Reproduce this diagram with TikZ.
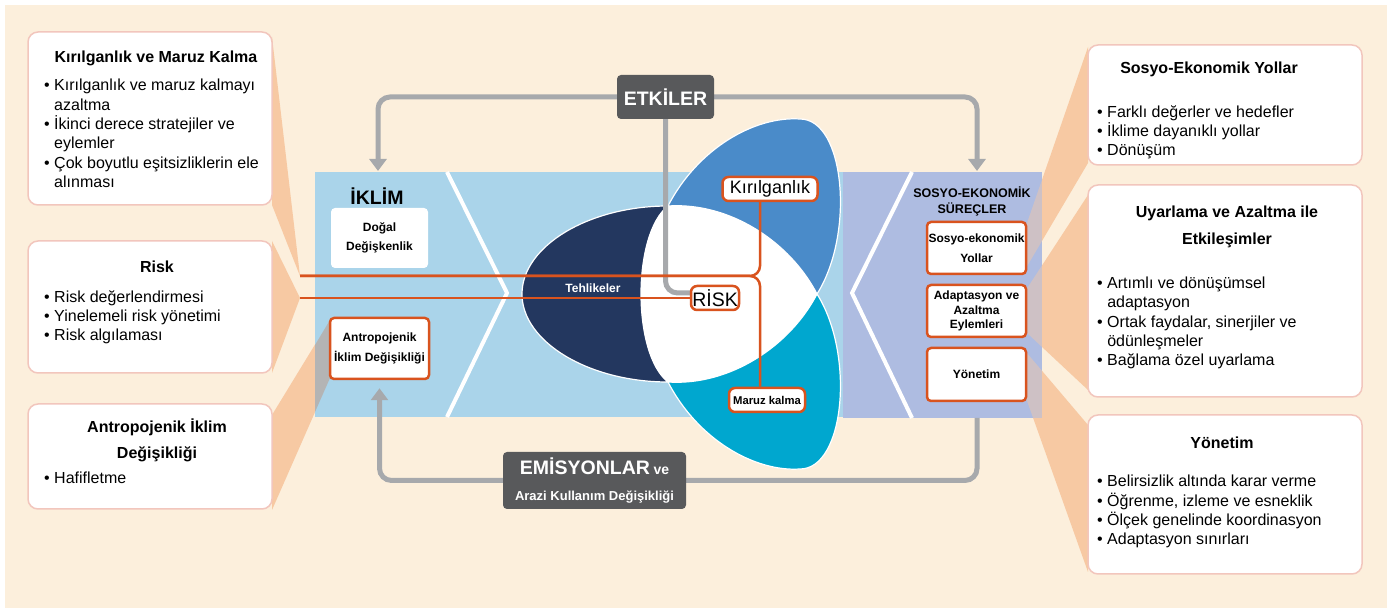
\documentclass[tikz,border=0pt]{standalone}
\usepackage{fontspec}
\setmainfont{Liberation Sans}
\usetikzlibrary{arrows.meta}
\pgfdeclarelayer{back}
\pgfdeclarelayer{wires}
\pgfsetlayers{back,wires,main}
\definecolor{cream}{HTML}{FCEFDC}
\definecolor{skyband}{HTML}{AAD4EA}
\definecolor{periband}{HTML}{AEBCE1}
\definecolor{navylobe}{HTML}{23375F}
\definecolor{bluelobe}{HTML}{4A8BC9}
\definecolor{cyanlobe}{HTML}{00A7CF}
\definecolor{riskorange}{HTML}{D9531E}
\definecolor{darkgraybox}{HTML}{58595B}
\definecolor{arrowgray}{HTML}{A7A9AC}
\definecolor{peachfill}{HTML}{F7C9A3}
\definecolor{pinkedge}{HTML}{F2C6BD}
\definecolor{graypatch}{HTML}{B4B4B4}
\newcommand{\fsz}[2]{\fontsize{#1bp}{#2bp}\selectfont}
\newcommand{\dotitem}{\textbullet\ }
\newcommand{\dotcont}{\phantom{\textbullet\ }}
\newcommand{\rightfans}[1]{%
  \fill[#1] (1088bp,561bp) -- (1088bp,445bp) -- (1026bp,340bp) -- (1026bp,382bp) -- cycle;
  \fill[#1] (1088bp,413bp) -- (1088bp,218bp) -- (1026bp,276bp) -- (1026bp,318bp) -- cycle;
  \fill[#1] (1088bp,183bp) -- (1088bp,36bp) -- (1026bp,210bp) -- (1026bp,256bp) -- cycle;}

\begin{document}
\begin{tikzpicture}[>={Triangle[width=17bp,length=12bp]},line join=bevel,
  bigbox/.style={draw=pinkedge,line width=1.5bp,fill=white,rounded corners=10bp,minimum width=244bp,inner sep=0pt},
  smallbox/.style={draw=riskorange,line width=2.5bp,fill=white,rounded corners=4bp,minimum width=99bp,inner sep=0pt,align=center,font={\bfseries\fsz{12}{20}}},
  tagbox/.style={draw=riskorange,line width=2.5bp,fill=white,rounded corners=6bp,inner sep=0pt,minimum height=24bp},
  darkbox/.style={fill=darkgraybox,rounded corners=4bp,text=white,inner sep=0pt,align=center},
  grayline/.style={draw=arrowgray,line width=5bp,rounded corners=12bp},
  orangeline/.style={draw=riskorange,line width=2.5bp},
  lobe/.style={draw=white,line width=1.2bp},
  listtext/.style={anchor=west,align=left,inner sep=0pt,font={\fsz{16}{19.4}}},
  boxtitle/.style={align=center,inner sep=0pt,font={\bfseries\fsz{16}{26}}},
  ]
\useasboundingbox (0bp,0bp) rectangle (1387bp,608bp);
%%
\begin{pgfonlayer}{back}
\fill[white] (0bp,0bp) rectangle (1387bp,608bp);
\fill[cream] (5bp,0bp) rectangle (1387bp,603bp);
%
\fill[peachfill] (272bp,571bp) -- (300bp,332bp) -- (272bp,403bp) -- cycle;
\fill[peachfill] (272bp,367bp) -- (300bp,310bp) -- (272bp,235bp) -- cycle;
\fill[peachfill] (272bp,193bp) -- (330bp,288bp) -- (330bp,230bp) -- (272bp,98bp) -- cycle;
\rightfans{peachfill}
%
\fill[skyband] (315bp,191bp) rectangle (843bp,436bp);
\fill[periband] (843bp,190bp) rectangle (1042bp,436bp);
\draw[white,line width=4bp,line join=miter] (447bp,436bp) -- (507bp,315bp) -- (447bp,191bp);
\draw[white,line width=4bp,line join=miter] (912bp,436bp) -- (852bp,315bp) -- (912bp,190bp);
\fill[graypatch] (315bp,263bp) -- (330bp,288bp) -- (330bp,230bp) -- (315bp,196bp) -- cycle;
\begin{scope}
  \clip (843bp,190bp) rectangle (1042bp,436bp);
  \rightfans{peachfill,fill opacity=0.45}
\end{scope}
%
\filldraw[lobe,fill=navylobe] (668bp,402bp) .. controls (589bp,402bp) and (522bp,362bp) .. (522bp,314bp)
  .. controls (522bp,266bp) and (589bp,226bp) .. (668bp,226bp)
  .. controls (632bp,254bp) and (632bp,374bp) .. (668bp,402bp) -- cycle;
\filldraw[lobe,fill=bluelobe] (668bp,402bp) .. controls (698bp,460bp) and (755bp,492bp) .. (800bp,489bp)
  .. controls (845bp,489bp) and (855bp,374bp) .. (817bp,314bp)
  .. controls (790bp,366bp) and (730bp,406bp) .. (668bp,402bp) -- cycle;
\filldraw[lobe,fill=cyanlobe] (668bp,226bp) .. controls (698bp,168bp) and (755bp,136bp) .. (800bp,139bp)
  .. controls (845bp,139bp) and (855bp,254bp) .. (817bp,314bp)
  .. controls (790bp,262bp) and (730bp,222bp) .. (668bp,226bp) -- cycle;
\fill[white] (668bp,402bp) .. controls (632bp,374bp) and (632bp,254bp) .. (668bp,226bp)
  .. controls (730bp,222bp) and (790bp,262bp) .. (817bp,314bp)
  .. controls (790bp,366bp) and (730bp,406bp) .. (668bp,402bp) -- cycle;
\end{pgfonlayer}
%
\node (node_teh) at (593bp,320bp) [inner sep=0pt,text=white,font={\bfseries\fsz{12}{14}}] {Tehlikeler};
\node (node_kir) at (770bp,419bp) [tagbox,minimum width=95bp,font={\fsz{18}{20}}] {Kırılganlık};
\node (node_risk) at (715bp,310bp) [tagbox,minimum width=48bp,font={\fsz{19.5}{22}}] {RİSK};
\node (node_maruz) at (767bp,208bp) [tagbox,minimum width=76bp,font={\bfseries\fsz{11.3}{13}}] {Maruz kalma};
%
\node (node_etkiler) at (665.5bp,511bp) [darkbox,minimum width=97bp,minimum height=44bp,font={\bfseries\fsz{19.5}{22}}] {ETKİLER};
\node (node_emis) at (594.5bp,127.5bp) [darkbox,minimum width=183bp,minimum height=57bp,font={\bfseries\fsz{13}{26}}] {{\fsz{19.5}{26}EMİSYONLAR} {\fsz{14}{26}ve}\\Arazi Kullanım Değişikliği};
%
\node (node_iklim) at (377bp,412bp) [inner sep=0pt,font={\bfseries\fsz{19.5}{22}}] {İKLİM};
\node (node_dogal) at (379.5bp,370bp) [smallbox,draw=none,minimum width=97bp,minimum height=60bp,font={\bfseries\fsz{12}{19}}] {Doğal\\Değişkenlik};
\node (node_antro) at (379.5bp,259.5bp) [smallbox,minimum height=61bp] {Antropojenik\\İklim Değişikliği};
%
\node (node_surec) at (972bp,407bp) [inner sep=0pt,align=center,font={\bfseries\fsz{12.5}{16}}] {SOSYO-EKONOMİK\\SÜREÇLER};
\node (node_yollar) at (976.5bp,360bp) [smallbox,minimum height=52bp] {Sosyo-ekonomik\\Yollar};
\node (node_adapt) at (976.5bp,297bp) [smallbox,minimum height=52bp,font={\bfseries\fsz{12}{14.5}}] {Adaptasyon ve\\Azaltma\\Eylemleri};
\node (node_yonetim) at (976.5bp,233.5bp) [smallbox,minimum height=53bp] {Yönetim};
%
\coordinate (tip_a) at (300bp,332bp);
\coordinate (tip_b) at (300bp,310bp);
\coordinate (brace) at (760bp,332bp);
\coordinate (iklim_in) at (378bp,437bp);
\coordinate (surec_in) at (977bp,437bp);
\coordinate (surec_out) at (977bp,190bp);
%
\begin{pgfonlayer}{wires}
\draw [grayline,->] (node_etkiler.west) -| (iklim_in);
\draw [grayline,->] (node_etkiler.east) -| (surec_in);
\draw [grayline] (node_etkiler.south) |- ([yshift=5bp]node_risk.west);
\draw [grayline] (surec_out) |- (node_emis.east);
\draw [grayline,->] (node_emis.west) -| ([yshift=-8bp]node_antro.south);
%
\draw [orangeline,rounded corners=10bp] (node_kir.south -| brace) -- (brace) -- (tip_a);
\draw [orangeline,rounded corners=10bp] (node_maruz.north -| brace) -- (brace) -- (tip_a);
\draw [orangeline] (tip_b) -- (node_risk.west);
\end{pgfonlayer}
%
\node (node_box1) at (150bp,489.5bp) [bigbox,minimum height=173bp] {};
\node (node_box1t) at (156bp,550bp) [boxtitle] {Kırılganlık ve Maruz Kalma};
\node (node_box1l) at (44bp,474.5bp) [listtext] {\dotitem Kırılganlık ve maruz kalmayı\\\dotcont azaltma\\\dotitem İkinci derece stratejiler ve\\\dotcont eylemler\\\dotitem Çok boyutlu eşitsizliklerin ele\\\dotcont alınması};
%
\node (node_box2) at (150bp,301bp) [bigbox,minimum height=132bp] {};
\node (node_box2t) at (157bp,341bp) [boxtitle] {Risk};
\node (node_box2l) at (44bp,290.7bp) [listtext] {\dotitem Risk değerlendirmesi\\\dotitem Yinelemeli risk yönetimi\\\dotitem Risk algılaması};
%
\node (node_box3) at (150bp,151.5bp) [bigbox,minimum height=105bp] {};
\node (node_box3t) at (157bp,168bp) [boxtitle] {Antropojenik İklim\\Değişikliği};
\node (node_box3l) at (44bp,130bp) [listtext] {\dotitem Hafifletme};
%
\node (node_box4) at (1225bp,503bp) [bigbox,minimum width=274bp,minimum height=120bp] {};
\node (node_box4t) at (1209bp,539bp) [boxtitle] {Sosyo-Ekonomik Yollar};
\node (node_box4l) at (1097bp,475.7bp) [listtext] {\dotitem Farklı değerler ve hedefler\\\dotitem İklime dayanıklı yollar\\\dotitem Dönüşüm};
%
\node (node_box5) at (1225bp,317bp) [bigbox,minimum width=274bp,minimum height=212bp] {};
\node (node_box5t) at (1227bp,381.5bp) [boxtitle,font={\bfseries\fsz{16}{27}}] {Uyarlama ve Azaltma ile\\Etkileşimler};
\node (node_box5l) at (1097bp,285bp) [listtext] {\dotitem Artımlı ve dönüşümsel\\\dotcont adaptasyon\\\dotitem Ortak faydalar, sinerjiler ve\\\dotcont ödünleşmeler\\\dotitem Bağlama özel uyarlama};
%
\node (node_box6) at (1225bp,113.5bp) [bigbox,minimum width=274bp,minimum height=159bp] {};
\node (node_box6t) at (1222bp,165bp) [boxtitle] {Yönetim};
\node (node_box6l) at (1097bp,96.3bp) [listtext] {\dotitem Belirsizlik altında karar verme\\\dotitem Öğrenme, izleme ve esneklik\\\dotitem Ölçek genelinde koordinasyon\\\dotitem Adaptasyon sınırları};
%
\end{tikzpicture}
\end{document}
